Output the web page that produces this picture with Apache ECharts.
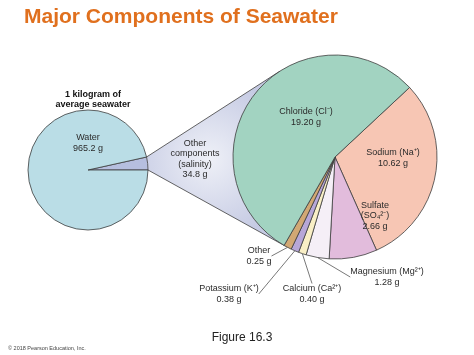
<!DOCTYPE html>
<html>
<head>
<meta charset="UTF-8">
<title>Major Components of Seawater</title>
<script src="https://cdn.jsdelivr.net/npm/echarts@6/dist/echarts.min.js"></script>
<style>html,body{margin:0;padding:0;background:#fff}</style>
</head>
<body>
<div id="main" style="width:474px;height:355px;"></div>
<script type="text/javascript">
// 1 kilogram of seawater
var waterNames = ['Other components', 'Water'];
var waterLabels = ['Other\ncomponents\n(salinity)\n34.8 g', 'Water\n965.2 g'];
var waterValues = [34.8, 965.2];

// the salinity, grams per kilogram
var ionNames = ['Sodium', 'Sulfate', 'Magnesium', 'Calcium', 'Potassium', 'Other', 'Chloride'];
var ionLabels = ['Sodium (Na⁺)\n10.62 g', 'Sulfate\n(SO₄²⁻)\n2.66 g', 'Magnesium (Mg²⁺)\n1.28 g',
  'Calcium (Ca²⁺)\n0.40 g', 'Potassium (K⁺)\n0.38 g', 'Other\n0.25 g', 'Chloride (Cl⁻)\n19.20 g'];
var ionValues = [10.62, 2.66, 1.28, 0.40, 0.38, 0.25, 19.20];

// layout / style
var waterColors = ['#b6bfdf', '#badde6'];
var ionColors = ['#f7c6b4', '#e2bcdc', '#f5eff7', '#f9efc6', '#b7a7d8', '#d2a874', '#a2d3c1'];
var smallC = [88, 170], smallR = 60;
var bigC = [335, 157], bigR = 102;
var waterLabelPos = [[195, 159], [88, 143]];
var ionLabelPos = [[393, 158], [375, 216], [387, 277], [312, 294], [229, 294], [259, 256], [306, 117]];
var ionOutside = [false, false, true, true, true, true, false];

var total = 0;
waterValues.forEach(function (v) { total += v; });
var wedge = waterValues[0] / total * 2 * Math.PI;

// ends of the salinity wedge, and tangents to the big circle
var p1 = [smallC[0] + smallR * Math.cos(wedge), smallC[1] - smallR * Math.sin(wedge)];
var p2 = [smallC[0] + smallR, smallC[1]];
function tangent(P, C, r, side) {
  var dx = P[0] - C[0], dy = P[1] - C[1];
  var d = Math.sqrt(dx * dx + dy * dy);
  var t = Math.atan2(dy, dx) + side * Math.acos(r / d);
  return [C[0] + r * Math.cos(t), C[1] + r * Math.sin(t)];
}
var t1 = tangent(p1, bigC, bigR, 1);
var t2 = tangent(p2, bigC, bigR, -1);

var txt = { fontFamily: 'Liberation Sans', fontSize: 9, color: '#2b2b2b', lineHeight: 10.5 };

var myChart = echarts.init(document.getElementById('main'));
var option = {
  backgroundColor: '#fff',
  animation: false,
  title: [
    { text: 'Major Components of Seawater', left: 19, top: 2,
      textStyle: { fontFamily: 'Liberation Sans', fontSize: 21, fontWeight: 'bold', color: '#e0701e' } },
    { text: '1 kilogram of\naverage seawater', left: 88, top: 85, textAlign: 'center',
      textStyle: { fontFamily: 'Liberation Sans', fontSize: 9, fontWeight: 'bold', color: '#111', lineHeight: 10 } },
    { text: 'Figure 16.3', left: 237, top: 327, textAlign: 'center',
      textStyle: { fontFamily: 'Liberation Sans', fontSize: 12, fontWeight: 'normal', color: '#222' } },
    { text: '© 2018 Pearson Education, Inc.', left: 3, top: 340,
      textStyle: { fontFamily: 'Liberation Sans', fontSize: 5.5, fontWeight: 'normal', color: '#444' } }
  ],
  graphic: [
    { type: 'polygon', z: 0,
      shape: { points: [p1, t1, t2, p2] },
      style: { fill: { type: 'radial', x: 0.45, y: 0.5, r: 0.6,
        colorStops: [{ offset: 0, color: '#eef0f7' }, { offset: 1, color: '#c5cae3' }] } } },
    { type: 'polyline', z: 0, shape: { points: [p1, t1] }, style: { stroke: '#3d3d3d', lineWidth: 0.8, fill: null } },
    { type: 'polyline', z: 0, shape: { points: [p2, t2] }, style: { stroke: '#3d3d3d', lineWidth: 0.8, fill: null } }
  ],
  series: [
    {
      type: 'pie', z: 3,
      center: smallC, radius: [0, smallR],
      startAngle: wedge * 180 / Math.PI,
      clockwise: true,
      avoidLabelOverlap: false,
      itemStyle: { borderColor: '#3d3d3d', borderWidth: 0.8 },
      label: Object.assign({ show: true, position: 'inside', align: 'center',
        formatter: function (p) { return waterLabels[p.dataIndex]; } }, txt),
      labelLine: { show: false },
      labelLayout: function (p) {
        var pos = waterLabelPos[p.dataIndex];
        return { x: pos[0], y: pos[1], align: 'center', verticalAlign: 'middle' };
      },
      emphasis: { disabled: true },
      data: waterNames.map(function (n, i) {
        return { name: n, value: waterValues[i], itemStyle: { color: waterColors[i] } };
      })
    },
    {
      type: 'pie', z: 3,
      center: bigC, radius: [0, bigR],
      startAngle: 43,
      clockwise: true,
      minAngle: 4.5,
      avoidLabelOverlap: false,
      itemStyle: { borderColor: '#3d3d3d', borderWidth: 0.8 },
      label: Object.assign({ show: true, align: 'center',
        formatter: function (p) { return ionLabels[p.dataIndex]; } }, txt),
      labelLine: { show: true, length: 10, length2: 0, lineStyle: { color: '#3d3d3d', width: 0.7 } },
      labelLayout: function (p) {
        var pos = ionLabelPos[p.dataIndex];
        return { x: pos[0], y: pos[1], align: 'center', verticalAlign: 'middle' };
      },
      emphasis: { disabled: true },
      data: ionNames.map(function (n, i) {
        return { name: n, value: ionValues[i], itemStyle: { color: ionColors[i] },
          label: { position: ionOutside[i] ? 'outside' : 'inside' },
          labelLine: { show: ionOutside[i] } };
      })
    }
  ]
};
myChart.setOption(option);
</script>
</body>
</html>
